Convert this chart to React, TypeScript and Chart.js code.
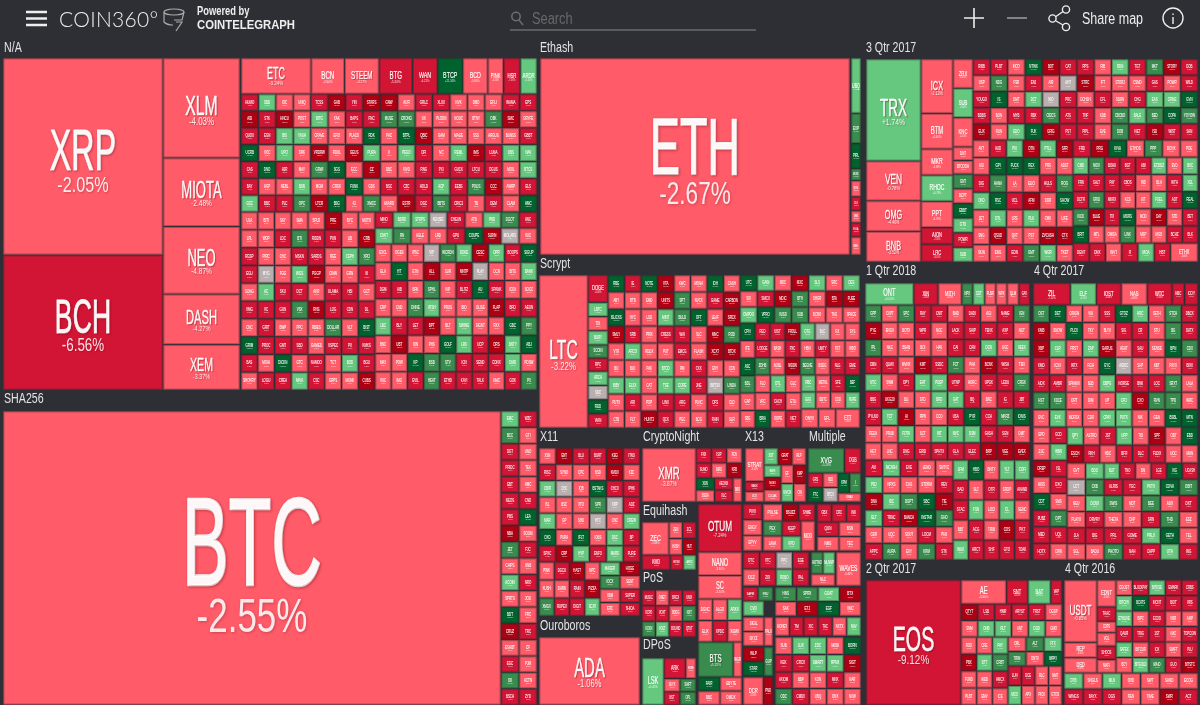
import React, { useEffect, useRef } from "react";
import { Chart, registerables } from "chart.js";

Chart.register(...registerables);

// ---- Tile data: "SYMBOL change% [weight]", one string per row of a block ----
const naBig = ["XRP -2.05"];
const naBch = ["BCH -6.56"];
const naCol = ["XLM -4.03 99", "MIOTA -2.48 68", "NEO -4.87 67", "DASH -4.27 50", "XEM -3.37 45"];
const naTop = ["ETC -3.24 67,BCN -2.60 32,STEEM -4.27 33,BTG -5.20 32,WAN -6.21 24,BTCP 21.5 24,BCD -3.8 24,PINK -4 15,HSR -7 16,ARDR 1.5 16"];
const naGrid = [
  "HUMO -7,SBD 1,IOC -3,UNIQ -3,TCSS -7,GAB -12,YIN -8,STARS -12,GNW -12,AUR -3,GRLC -7,XLUX -8,NVK -3,DMD -3,EFLI -3,WAMA -7,EPS -8",
  "AID -12,STK -8,HNCU -12,POST -3,BITG 1,XAK -3,BAPS -7,FNC -8,MUSE 5,CRONG 5,UK -3,PLODN -3,NOUC -3,BTNY -3,OBK 5,SMC -12,GRYFE -3",
  "QUOX -7,EGN -8,BIS 1,YASH 2,CRAVE -3,ERO -3,PLACO -3,RDK 15,PHC -3,BTPL 12,QBIC -12,GAM -3,MAGE -3,SSS -3,ARGUS -3,BUNSS -3,GBBT -7",
  "UCRB 14,XOC -3,UPO 1,DRK -3,VRDRW -12,RDUL -3,GEUS -12,PURA 2,V -3,PEGO 1,DFI -8,IVC -3,REML 2,IMS -12,LUNA -7,DBS 1,NAV 2",
  "CAS -7,DNO 13,HJR -8,MAY -3,GRWI 6,SGS 16,ECC -3,CZ -12,DBC -3,VIVO -3,RNG -7,PXI -8,GUCK -7,LTCU -8,DGUS -7,MOIL -3,BTCS 1",
  "BAY -7,AGP -3,NEBL -3,BSN 2,MGM -3,CRGK -3,FUNK 14,GDS -3,BSC -7,CZC -8,HOLD -7,ACP 1,EEBS -7,POLIS 5,CCC -12,AWRP -3,ELS -7",
  "GCC 1,BBC -7,PLC -8,OPC 6,LTCR -12,BSG 15,42 -3,XMCC 5,AKARD -3,ESTR -12,DGC -7,BBTS 5,CRIC2 -8,TB -3,DEM -7,CLAM -3,HMC 13",
];
const naLeft = [
  "ULA -3,BITI -3,SKY -3,SMA -3,SPLD -3,PRE -12,BYC -3,MOTO -3",
  "LPL -3,WDP -3,LDC -7,BTI 5,RIDDN -8,PUN -7,LIB -3,CRB -12",
  "RGSP -7,PIRC -3,CHC -3,MSKN -8,SARDS -7,REE -3,CEPH 1,XRO 6",
  "EGU -7,MYG 0,FGG -3,WGS 2,PGGP -12,CINW -3,GRN -3,III -8",
  "SONG -3,AC 1,SKU -8,DCT -7,AKR -3,ULAMA -8,HBI -7,GCT -3",
  "XMG -7,VC -8,GUN -7,VSX 6,RNS -12,LOG -7,CDN -8,DL -7",
  "CNC -3,GRIT -8,BWP -3,PPC -3,RBIES -3,DOLLAR 5,VLT -3,BIST 14",
  "GRIM 13,PROC -7,GMT -8,SBD -7,GAMES -3,XSPEC -7,PX -8,KMXS -7",
  "BAS -7,MOIA -3,DICKN 15,GTC -3,NAMDO -7,TCT -3,BOD 2,BGU -7",
  "SHOKRY -3,LOGU -7,CREA -8,MKIA 1,CSC -7,GRPS -3,MONK -3,CUBS -12",
];
const naRight9 = [
  "MINO -7,BDRD 2,STRPS 1,KENSEI 0,CHEUN -8,ATB -3,PND 2,DGOT 5,ANC -7",
  "CNVT 1,RN 5,AGLE -3,LRD -3,GPU -7,COUPE 13,SLRIN -12,MOLARS 0,VUC -3",
];
const naRight10 = [
  "EXCL -3,OGES -3,IPSC -3,VIP 0,WCRDN 6,DOKE 1,CESC -12,OPR 2,BOOPS -7,SIGUP 14",
  "ELA -3,HT 15,ETN -3,ALL -12,SUR -3,MNTP -12,PLAY 0,OCN -3,BITS -3,BANK 1",
  "DGM -7,AIB -8,BRK -3,SPHL 5,KIP -3,BLITZ -7,AU 13,SPANK -8,ICOX -3,SOCC -3",
  "CRP -3,CND -3,DNNE 6,ATSH 1,PROS -3,BIO -3,OLISE -3,FLAP -12,BRO -7,AEON -8",
  "LBC 2,BLY -7,LET -8,BPT -12,BLT -3,SWING 1,SIGNT -3,RXX -3,GBC 14,PPY 5",
  "BNC -3,UBT -12,ION -3,PHS -3,GOLF 15,LRK 2,UCP -7,DRS -12,BNTY 1,ABJ 13",
  "MAX -3,POW -3,KP 14,BSB 5,STV 6,ICN -7,SEND -8,CDNX -7,DMD 1,POSW -3",
  "VUC -3,IMG -3,EVIL -7,HEAT 5,ETHD -8,KAYI -7,TALK -8,NMC -3,GOK -7,PX 6",
];
const shaBtc = ["BTC -2.55"];
const shaGrid = [
  "EMC 1,WZC -7", "BCC 5,GTI -3", "DGT -7,UNO -3", "PRIDC -8,TEK -3", "EBT -7,HMC -3", "NEOS -7,CND -8",
  "PBS -7,LEA 14", "NBA -12,SOOM -3", "JET 5,FJC -7", "CHIPS -3,UNB -3", "ACOIN 1,NRO -7", "SPRTS -3,JOD -3",
  "BDT 13,FRC -3", "CRUZ -12,TRC -7", "ESHBT -3,CF -3", "EGC -7,PJM -3", "OK 5,ACTN -3", "BSCH -7,ZYD -7",
];
const ethBig = ["ETH -2.67"];
const ethCol = ["UBQ 1 55", "EXP 6 30", "PIRL 14 25", "MUSIC 6 12", "SOIL -3 16", "CLO -7 14", "DBIX -3 12", "ELLA -8 14", "WHL -3 18"];
const q3Left = ["TRX 1.74 100", "VEN -0.78 39", "OMG -4.46 30", "BNB -3.52 30"];
const q3Mid = ["ICX -1.12 52", "BTM -4.40 34", "MKR -3.89 25", "RHOC 0.78 25", "PPT -3.09 25", "AION -7.3 16", "LRC -8.1 17"];
const q3Col = ["ZRX -3.2 28", "SUB 1.6 28", "KNC -3.1 28", "DNT -3 13", "BTCOOH -3 13", "GNT 5 14", "BCPT -3 14", "EBBT 14 14", "GTO 1 14", "POWR -7 14", "SUB 2 14"];
const q3Grid = [
  "RIBB -7,PLBT -7,INCO -3,NTWK 14,BOT -12,CAT -7,RPS -8,RIB -3,RDN 1,TGT -7,MKT 5,STORY -12,DOB -8",
  "USP -3,NDG 5,FSR -3,ENJ -7,AIR -3,AHT 0,STRC -12,IFT -3,STORJ -3,CSMD -3,GAS -7,POWR -3,WILD -7",
  "YOUGO -8,IS 15,OMT -3,DCT 1,NIO 0,PRC -7,DCHSH -3,CFL -8,SDRN -3,CHG -7,EAS 2,CFINE 1,GVN 14",
  "BDBS -7,BON -3,MYB -7,RBX -8,CIDCS 5,ATS -7,TNF -8,XDB -3,CBCBO 6,BALE 1,BED 5,COPA 15,YOYOW 5",
  "ELIX -12,RUN -3,EDO 1,FUK 13,GRIG -12,PST -7,PIPL -8,EVE -3,DOB 6,NET -7,ISD -12,WIST -8,SAN -7",
];
const q3GridB = [
  "AVT -3,AUD -7,PIX 2,OTN -12,PTLL 1,SFR -12",
  "ASI -3,GPI 14,FUCK 15,REX 13,PRS -3,ADST -3",
  "DIG -7,HANA 5,LA -3,ELIO -3,HULS -7,ROG 6",
  "OKD 1,RSC 13,UCL -7,AFM -12,DDR -3,SHOW 14",
  "JET -3,DTL 1,LRS -3,PLK 2,CMK -3,LIFE -3",
  "SNG -3,QSUD -12,QVT -3,PST -3,ZVCASH -12,CTX -12",
  "SKIN -3,ENG -3,EDN -7,GMT 5,WGR 1,TKET -3",
];
const q3GridC = [
  "FRD -7,PRG -12,KIVA 14,ETHOS -3,PPP 6,BCHX -3,POE -3",
  "CMD 1,NIOX 5,BOHU -7,BGT -8,ABI -7,ETZIDZ 1,EVD -3,BKC 2",
  "FRN -8,SALT -7,PAY -7,CBOS -8,IND -3,BLH -3,WTH -7,XEL 1",
  "DCTR -7,GRID 5,MKRX -7,KCS -3,IXT -3,FUEL 1,ADT -7,REAL 14",
  "KICK 5,BLUE -12,TIX -8,MDRS 15,MOD -3,DAY -12,STD -3,BET -7",
  "BRIT 14,MTL -3,OMISA -3,LINK 6,MSP -3,MGO -3,BCHZ -7,BLK -8",
  "DENT -7,DNX -8,INVT -3,R -7,MOA 1,HBT -7,ETHX -3 1.7",
];
const q1Top = ["ONT 0.5 70,XIN -7.3 35,MITH -4.1 34,NPX 5 16,CDT 1 17,PLBR -3 16,WPX -3 16,QLM -3 17,GAY -7 16"];
const q1Grid = [
  "GPP 5,CXPT -3,SPC 6,RAY -7,CNIT -8,BHD -3,DADI -7,AGI -3,NAME -8,IGN 5",
  "PYE -12,ENGX -3,BOTX -3,WPR -7,NGC -3,LACK -8,SHIP -7,TENX -8,AXP -7,NGT -3",
  "IPL 6,NKC -3,BSAB -3,BOI -3,HAV -3,CAI -7,CAN -8,DCN 1,UGC -3,VEEX 2",
  "DBN -7,QLMX -8,MVNX -3,KMT -12,SSDC -7,FCT 6,PHA -3,BCNX -12,WISH -7,TEN -3",
  "NTC 1,SWM -3,DPY -8,EHT 2,PDEP 1,UTNP -7,HORC -3,UPGK -8,LEDU -7,CRGK 5",
  "BBG -7,UKG20 -12,BLI -3,STD -3,BRD 1,GAT 2,BQ -7,BRC -3,IG -7,JBT -8",
  "PYLNO -7,TCT 2,AI -12,RPN -3,CCO -3,USA -7,PYR 14,CCH -8,MKRZ 5,IONIS 15",
  "REDX -3,PRUB -3,FOTA 1,SCT -3,INT 2,NVC 1,DSM 2,GASH -7,SGN -8,DMT -3",
  "HGT -3,LNC -3,DNG -8,ERID -7,SPHTX -7,GLA -8,ELEC -7,BRP -12,VEE -12,EVEX -12",
];
const q1LowA = [
  "AVI -7,MCASH 1,EVE -8,LEND -3,SNTYC -3",
  "PDJ 1,NPXS -3,CAG -3,STORM -3,REV -7",
  "DNA -12,IDC 2,DGPT 5,SBC 14,TIE -12",
  "GLT 1,TRNC -8,BANCA -12,INSTAR 15,GHO 6",
  "GDR -3,UQC -3,SOUT -3,LOCM -7,PHX -3",
  "APPC -7,AURA 6,EXY -3,KRM 5,STK -8",
];
const q1LowB = [
  "LFM 1,HBO 14,BNTY -3,YLT 2,COFI 1",
  "BAD -7,SLT -3,OTR -7,SROP -3,AVAND -8",
  "STAC -7,FSN 1,LOCI -3,CL 2,SENC -3",
  "BBT -3,ACG -8,TRIB -3,COS -12,PKT -7",
  "WAX 1,ARCT -7,SHF -8,GTO -7,TOAK -7",
];
const q4Top = ["ZIL -7.2 36,ELF 0.5 25,IOST -6.5 24,NAS -4.8 25,WTC -7.6 24,HBC -7 12,ICOY -8 13"];
const q4Grid = [
  "OST 5,DET 14,ORIGN -3,VIU -3,SSS -7,GTOZ 15,HRC 1,SETH -3,STCH 6,DBCX -8",
  "KMB -12,SNOW -3,PLCX 14,TKY -3,BLYX -3,SIG -7,CR -8,STU -3,BG 5,DATX -7",
  "XBP -12,CLR 1,FRST -3,ZAP 2,GARUS -12,AGAT -3,SAU -7,SENSE -3,BPN 15,CDX 6",
  "KMD -7,ICXX -3,INTX -8,RGH -3,GYC 14,AIDOC 0,SHP -3,KBT -3,PAYX -3,BIXX -7",
  "AIDX -8,AMBR -7,SPANKX -3,B2B -3,DBPG 1,NORSE -7,BNK -8,LOC -7,SRXT 5,LALA -3",
  "HST 6,XDCE 5,DRT -3,DIM -3,UP -3,CFO 1,CXO -12,RVN 6,TPD 5,WRC -3",
  "GVC -3,EVX 2,MDRSX -3,CDR -3,CPAY 1,PUTX 2,NIK -3,GEN -3,BSBL 14,MTN 15",
];
const q4Left = [
  "EPO -3,GCD -8", "ZSC -3,WBN 1", "DREP -12,ISL -7", "HIOS -3,DXO -8",
  "CDT 14,SMS -3", "PUBZ -7,DPT 5", "MED -8,UQL -7", "HOTX -7,CRW -3",
];
const q4Mid = [
  "QPY 1,ASTRO -3,JST -7,UPP 2,TIO -3,SPF -12,OBT -3,EBD 14",
  "ESCH -12,RKH -7,HDC -3,BFR -8,DLC -7,FLDIX -8,UOC -3,MAN -3",
];
const q4Two = [
  "GVT -3,BDO 2", "LCT 0,CXB 5", "NEU -3,DCNX 1", "PLAYX -3,DRVRY -7", "JLA -8,BIG -7", "SGL -3,BADU -3",
];
const q4Rest = [
  "BLIT 1,TNO -7,BAI -3,LGE -8,IXG 14,UCASH -7",
  "ALRIS -7,TGC -8,PKTX 1,COVA 15,OBIT 5",
  "SWIS 6,MDT -3,BEE 5,ADX -3,DXT -8",
  "THETA -3,CHP -3,SRN -7,THD 6,ESZ -3",
  "PRL -7,GOME -8,PRLX 1,GETH 14,TEL -3",
  "PHOTO 5,NAH -7,CAPP -8,UTH 2,ING -7",
];
const q2Eos = ["EOS -9.12"];
const q2Top = ["AE -3.8 44,SNT -5.1 21,BAT 0.9 22,VAP -7 11"];
const q2Rows = [
  "QTYT -12,LSB -7,HMR -8,ARYST -7,TRST -8,DGSP -3",
  "SNM -3,ONB 1,RLT 2,ANT -3,DGD 1,GMO -3",
];
const q2LowLeft = ["ROO -3,CRE -3,PAY 2", "PBX -12,DTT 1,CRBT 5", "FUND -3,WEB -3,HMCX -8", "PLBT -3,EMV -3,ICE -3"];
const q2LowRightA = ["ORL -3,ALT 6,FTX 1", "TRIM 5,DNTX -3,IMPAY 14"];
const q2LowRightB = ["LUN -7,DCE -8,RLC -3,NMT -3", "MCO 1,APX -3,PICK -3,GTOS -3"];
const q6Usdt = ["USDT -0.85 61", "REP -3 15", "DSD -3 15"];
const q6Col = ["EDNT -3 26", "TAAC -7 14", "COPS -3 11", "VGL -3 13", "SHOOS -8 13", "NIXFI -3 13"];
const q6Grid = [
  "COOST -3,BLOCKPAY -7,BITUSE 1,EMARK -8,CRBS -7",
  "BITCNY 1,BCATS 14,INCNT -7,BIOT -8,VRS -7",
  "ETHLIVE 2,BIPC -3,ECOD -7,NSR -3,AMP -3",
  "QAUR -7,TRIG -8,1ST -7,NXC -3,TOPCOIN -8",
  "SAFEX 1,BITCUR -3,IOX -7,SWIFT -3,PLU -8",
  "BCY -3,BITGOLD 2,MAID 5,GUO -7,BITSTC -12",
];
const q6Low = ["DTB 1,SNGLS -3,MLN 2,OXD -3,SWT -3,SAND -3,ECOG -3", "WINGS -7,BAYX -8,DGS -7,REN -3,TIME -3,SWR -12,ACT -8"];
const ltcBig = ["LTC -3.22"];
const scrCol = ["DOGE -6.4 27", "LBTC 1 14", "TIX -3 14", "BURY 2 14", "SCOIN 5 13", "RPC -7 13", "ARCH 1 14", "SDC 0 14", "RDD 14 14", "VIAN -7 14"];
const scrGrid = [
  "RBE 14,IE -7,NOTE 15,VTA -12,KWC -3,MONA -3,IDH 14,CASH -3",
  "ABY -3,BTB -3,EMD -3,UNITS -12,SPT 6,NVCX -3,GAME -8,CARBON -12",
  "ISLICKS 15,HYC -3,LSD -3,MINT 1,BULD 5,OFT 14,LEAF -3,SRCX -12",
  "SMLY -12,SRB -8,PRIX -3,CRESS -7,WAI -8,SLC -3,MNC -12,ROD 6",
  "VTR -3,ARCO 2,RDDX -3,PUT -3,EMCG -8,FLASH -3,XCXT -12,BTDX -12",
  "BU -3,BLK -3,PAK -3,BTCD 1,RM -3,CXX -7,ENY -3,CCN -3",
  "BIBY 1,ELSX 2,CAT -3,TSE 1,CORE 2,JNE -7,BBTSX 0,LINDA 5",
  "PUTX -3,ARI -7,PDP -3,LINX -8,ARG -7,PLNC -3,DFS -8,CLD -3",
  "CTB -3,FLT -3,HUNT2 -12,QCK -7,PEC -3,BCG -3,RAIN -8,SLR -3",
];
const scrTop = [
  "UTC 14,GAIN 2,MDC -3,MXC -12,SLS 1,SRC -3,DES 2",
  "SIX -3,SMCX -7,MDIC -12,BTH 5,SHGR -3,BTA -12,FUEE -12",
  "CMPOO 1,VPRO 14,VUSD 5,SUB 6,BCNO -3,TAG -3,SPACE -3",
];
const scrOne = ["CPN 14", "ITE -3", "ASC 15", "BDL 5", "GAP -3", "SBE -3"];
const scrMid = [
  "RED -8,UIST -7,FROLL -12,DTG 2,BLC 0,RX -3,SYS -3",
  "LOOGE -7,BASH -3,PXC -8,HBN -3,UNITY -7,FST -3,WBO -3",
  "ZOHB 5,NOBL -3,NIDDN -12,BEGNE 6,BSDG -3,NLG -7,EME -8",
];
const scrLowL = ["FLO -3,DTL 1,GLC -3", "VRC -3,CACH -7,ETLI -3", "BRIA 14,OOPE -3,NET -8"];
const scrLowR = ["RBC 1,METAL -3,SFE -7,BEF 14", "EAG 2,BBTC -3,COD -3,RUPE 1", "ONYX -3,EFL -3,ETT -3 1.4"];
const x11Grid = [
  "XSN -3,ENT -12,BLU -7,BURT -8,KEG -12,ITNS -7",
  "RISC -7,SYNO -3,CPC -3,BSD -3,KMDX -12,KZC -3",
  "CBIR 1,CHC 0,IQB -3,BSTAKS 14,CHCX -7,IPHK -8",
  "ISL -3,BSC -3,XTO -3,SPR 5,XRP 0,ADZ -8",
  "MAR 1,GP -3,SHD -3,HTC 0,CNC -3,CREW 2",
  "OXD 14,PURA -3,IFLT 15,IOBS -3,DSC 1,BP -7",
  "SPXC -7,CRP -12,HYP 2,ENFO -7,MARS 1,PURE -8",
];
const x11LowL = ["PINK -3,DGCU -7,HAST -12,NPC -3", "KUSH -3,DARN -3,RAIN -7,PIZZA -12", "XMGX 5,RUPEX -7,DIGIT -8,SCAT 1"];
const x11LowR = ["MAGER 1,HOGE -12", "IOCX 5,SENT -3", "XBM -3,SUPER -7", "ERC -3,SHIDA -8"];
const adaBig = ["ADA -1.06"];
const xmrBig = ["XMR -3.87"];
const cnA = ["FNX -7,ISIP -8,FCN -3", "SUMO -7,BIRD -3,KRB -12"];
const cnB = ["XDN 14,AEONX -7", "SSDA -3,XLC -8"];
const cnC = ["BBR -3"];
const eqZec = ["ZEC -3.88"];
const eqGrid = ["ZEN -3,ZCL -8", "HUSH -3,HUT -12"];
const eqLow = ["KMD -7 2.2,BTGX -7,ARTC 2"];
const posGrid = ["MUSIC -7,ONET -3,BRCX -8,UNIX -7", "XCPO -7,VOXT -8,BDDG -3,NXT 6", "XCKN 5,VOLT 1,BOUND -7,QTUT -8"];
const dposLsk = ["LSK 0.45"];
const dposGrid = ["ARK -7 2.1,RISE -3", "SKYX -3,SHIFT 6", "NST -7,OPL 5"];
const x13Strat = ["STRAT -3.1 95", "NAVX -7 28", "ZCO -3 30"];
const x13Top = ["XST 1,GRAT -12,RLP -3"];
const x13Col = ["BWK 2", "NLGX -12", "CLOAK -3"];
const x13Grid = ["EF -3,KMP -12", "VIVOX 1,CIN -3"];
const mulTop = ["XVG 5.28 2.2,DGB -7.1"];
const mulA = ["GRS -7,XBD -3", "FTC 14,BTCX 0"];
const mulB = ["XPM 14,I 6"];
const mulC = ["DNAX -3"];
const otumBig = ["OTUM -7.24"];
const nanoSc = ["NANO -3.80 22", "SC -3.10 22"];
const miscA = ["DGNC -3,ALGO -3,ARKX 2", "ELIX -3,XPDC -7,XEMX -3"];
const btsBig = ["BTS 5.25 4,WGR -3"];
const miscB = ["FAIR 14,GBYTE -3", "BBC -3,DMDX -3"];
const colPivx = ["PIVX -7", "ENGY -3", "EPYV -3"];
const rowPulse = ["PULSE -3 1.2,BSUZZ -12,SHME -7"];
const gridPex = ["PEX 6,KEEP -7", "LANA -3,KPD 1"];
const tallMod = ["MOD -3"];
const rowGbx = ["GBX -7,CRC -7,INK -8"];
const gridQun = ["QUN -7,BSN -3", "NMS -3,TEC -3"];
const rowDtc = ["DTC -7,VTC -8,PPC 0,EGE -7", "IOCZ -3,ZOI -7,ROBO 2,PAL -8"];
const hot = ["HOTNO 5,MLNNP 1"];
const nlc = ["NLC -3"];
const waves = ["WAVES -3.4"];
const sapir = ["SAPIR -7,PGU 5"];
const cvd = ["CVD 1"];
const sigil = ["SIGIL -3", "SKYZ -3"];
const palx = ["PALX -3"];
const wlp = ["WLP -12", "STAR 15"];
const tallM = ["GUP 5"];
const dcr = ["DCR -3.5 2.1,PND -12"];
const lowA = ["HNS 5,SPRX 6,GOAT 1,BTX -12", "SAK -3,ETJ -12,EGF 14,XMC -3"];
const lowB = ["HONEY -3,TM -7,XIC -8,TAC -7,NXTX -3,NAV 1"];
const lowC = ["SUB -3,LUX 1,ZOC 2,MOBI -3,BORN 15", "KEK -7,CRCX -8,SMART 1,RPNX 2,SIGT -12"];
const lowD = ["AXIOM -7,BBP -3,KON -3,MNX -8,NAR -3", "ODC 6,CMDX -7,UBQ -3,ONX -3,NXW -3"];

// Group captions and where each sits on the map.
const groupNames = ["N/A", "SHA256", "Ethash", "3 Qtr 2017", "Scrypt", "1 Qtr 2018", "4 Qtr 2017", "X11", "CryptoNight", "X13", "Multiple", "Equihash", "PoS", "Ouroboros", "DPoS", "2 Qtr 2017", "4 Qtr 2016"];
const groupAnchors = [[4, 48], [4, 399], [540, 48], [866, 48], [540, 264], [866, 271], [1034, 271], [540, 437], [643, 437], [745, 437], [809, 437], [643, 511], [643, 578], [540, 626], [643, 645], [866, 569], [1065, 569]];

// Where each block of rows goes: rows, x0, y0, x1, y1 in map units.
const blocks: [string[], number, number, number, number][] = [
  [naBig, 3, 58, 163, 255], [naBch, 3, 255, 163, 390], [naCol, 163, 58, 240, 390], [naTop, 241, 58, 537, 94],
  [naGrid, 241, 94, 537, 212], [naLeft, 241, 212, 375, 390], [naRight9, 375, 212, 537, 244], [naRight10, 375, 244, 537, 390],
  [shaBtc, 3, 411, 501, 705], [shaGrid, 501, 411, 537, 705],
  [ethBig, 540, 58, 850, 255], [ethCol, 851, 58, 861, 255],
  [q3Left, 866, 59, 921, 262], [q3Mid, 921, 59, 953, 262], [q3Col, 953, 59, 973, 262], [q3Grid, 973, 59, 1198, 140],
  [q3GridB, 973, 140, 1073, 262], [q3GridC, 1073, 140, 1198, 262],
  [q1Top, 865, 283, 1030, 305], [q1Grid, 865, 305, 1030, 460], [q1LowA, 865, 460, 953, 560], [q1LowB, 953, 460, 1030, 560],
  [q4Top, 1033, 283, 1198, 305], [q4Grid, 1033, 305, 1198, 427], [q4Left, 1033, 427, 1067, 560], [q4Mid, 1067, 427, 1198, 463],
  [q4Two, 1067, 463, 1104, 560], [q4Rest, 1104, 463, 1198, 560],
  [q2Eos, 866, 580, 961, 705], [q2Top, 961, 580, 1062, 604], [q2Rows, 961, 604, 1062, 637], [q2LowLeft, 961, 637, 1008, 705],
  [q2LowRightA, 1008, 637, 1062, 666], [q2LowRightB, 1008, 666, 1062, 705],
  [q6Usdt, 1064, 580, 1097, 673], [q6Col, 1097, 580, 1116, 673], [q6Grid, 1116, 580, 1198, 673], [q6Low, 1064, 673, 1198, 705],
  [ltcBig, 539, 275, 588, 428], [scrCol, 588, 275, 608, 428], [scrGrid, 608, 275, 740, 428], [scrTop, 740, 275, 860, 323],
  [scrOne, 740, 323, 755, 428], [scrMid, 755, 323, 860, 375], [scrLowL, 755, 375, 801, 428], [scrLowR, 801, 375, 860, 428],
  [x11Grid, 539, 448, 640, 562], [x11LowL, 539, 562, 600, 616], [x11LowR, 600, 562, 640, 616],
  [adaBig, 539, 637, 640, 705],
  [xmrBig, 642, 448, 696, 502], [cnA, 696, 448, 742, 478], [cnB, 696, 478, 733, 502], [cnC, 733, 478, 742, 502],
  [eqZec, 642, 522, 669, 555], [eqGrid, 669, 522, 696, 555], [eqLow, 642, 555, 696, 570],
  [posGrid, 642, 590, 696, 637], [dposLsk, 642, 658, 664, 705], [dposGrid, 664, 658, 696, 705],
  [x13Strat, 745, 448, 764, 502], [x13Top, 764, 448, 806, 465], [x13Col, 764, 465, 781, 502], [x13Grid, 781, 465, 806, 502],
  [mulTop, 808, 448, 861, 473], [mulA, 808, 473, 838, 502], [mulB, 838, 473, 861, 493], [mulC, 838, 493, 861, 502],
  [otumBig, 698, 504, 742, 552], [nanoSc, 698, 552, 742, 599], [miscA, 698, 599, 742, 642], [btsBig, 698, 642, 742, 677], [miscB, 698, 677, 742, 705],
  [colPivx, 743, 504, 762, 551], [rowPulse, 763, 504, 815, 521], [gridPex, 763, 521, 801, 551], [tallMod, 801, 521, 815, 551],
  [rowGbx, 817, 504, 861, 522], [gridQun, 817, 522, 861, 551],
  [rowDtc, 743, 552, 809, 586], [hot, 811, 552, 835, 574], [nlc, 811, 574, 835, 586], [waves, 836, 552, 861, 586],
  [sapir, 743, 587, 773, 601], [cvd, 743, 601, 764, 616], [sigil, 743, 617, 764, 646], [palx, 764, 617, 773, 646],
  [wlp, 743, 647, 764, 676], [tallM, 764, 647, 773, 676], [dcr, 743, 677, 773, 705],
  [lowA, 775, 587, 861, 616], [lowB, 775, 617, 861, 636], [lowC, 775, 637, 861, 672], [lowD, 775, 672, 861, 705],
];

type Tile = { x: number; y: number; x0: number; y0: number; x1: number; y1: number; name: string; change: number };

// Lay each block out: row height follows the mean weight of its tiles, tile width its weight.
function layout(): Tile[] {
  const out: Tile[] = [];
  for (const [rows, bx0, by0, bx1, by1] of blocks) {
    const parsed = rows.map((r) =>
      r.split(",").map((t) => {
        const p = t.trim().split(" ");
        return { name: p[0], change: parseFloat(p[1]), w: p[2] ? parseFloat(p[2]) : 1 };
      })
    );
    const means = parsed.map((r) => r.reduce((s, t) => s + t.w, 0) / r.length);
    const total = means.reduce((a, b) => a + b, 0);
    let y = by0;
    parsed.forEach((r, i) => {
      const h = ((by1 - by0) * means[i]) / total;
      const sum = r.reduce((s, t) => s + t.w, 0);
      let x = bx0;
      for (const t of r) {
        const w = ((bx1 - bx0) * t.w) / sum;
        out.push({ x: x + w / 2, y: y + h / 2, x0: x, y0: y, x1: x + w, y1: y + h, name: t.name, change: t.change });
        x += w;
      }
      y += h;
    });
  }
  return out;
}

const BG = "#2e2f34";
const NARROW = '"Liberation Sans", sans-serif';
const STRETCH = 0.56;
const PCT_STRETCH = 0.74;

function bandColor(v: number): string {
  if (v >= 10) return "#00622c";
  if (v >= 3) return "#3a8c4e";
  if (v > 0) return "#66c87e";
  if (v === 0) return "#b9afaf";
  if (v > -5) return "#ff5b69";
  if (v > -10) return "#d31535";
  return "#af0013";
}

function fmt(v: number): string {
  return (v > 0 ? "+" : "") + v.toFixed(2) + "%";
}

function squeezed(ctx: CanvasRenderingContext2D, text: string, x: number, y: number, cap: number, weight: number, stretch: number) {
  ctx.font = `${cap / 0.72}px ${NARROW}`;
  ctx.save();
  ctx.translate(x, y);
  ctx.scale(stretch, 1);
  if (weight > 0) {
    ctx.lineJoin = "round";
    ctx.lineWidth = cap * weight;
    ctx.strokeStyle = ctx.fillStyle as string;
    ctx.strokeText(text, 0, 0);
  }
  ctx.fillText(text, 0, 0);
  ctx.restore();
}

const treemapPlugin = {
  id: "treemapTiles",
  afterDatasetsDraw(chart: any) {
    const { ctx, scales } = chart;
    const sx = scales.x;
    const sy = scales.y;
    ctx.save();
    ctx.fillStyle = BG;
    ctx.fillRect(0, 0, chart.width, chart.height);
    for (const t of chart.data.datasets[0].data as Tile[]) {
      const x0 = sx.getPixelForValue(t.x0);
      const x1 = sx.getPixelForValue(t.x1);
      const y0 = sy.getPixelForValue(t.y0);
      const y1 = sy.getPixelForValue(t.y1);
      const w = x1 - x0 - 1;
      const h = y1 - y0 - 1;
      ctx.fillStyle = bandColor(t.change);
      ctx.fillRect(x0 + 0.5, y0 + 0.5, w, h);
      ctx.strokeStyle = "rgba(45,40,45,0.35)";
      ctx.lineWidth = 1;
      ctx.strokeRect(x0 + 1, y0 + 1, w - 1, h - 1);

      let cap = 0.235 * Math.sqrt(w * h);
      ctx.font = `${cap / 0.72}px ${NARROW}`;
      const wide = ctx.measureText(t.name).width * STRETCH;
      if (wide > w * 0.88) cap *= (w * 0.88) / wide;
      const pctCap = Math.max(cap * 0.38, 1.6);
      const gap = cap * 0.14;
      const mid = (y0 + y1) / 2 + h * 0.02;
      const top = mid - (cap + gap + pctCap) / 2;
      const cx = (x0 + x1) / 2;
      const big = cap > 8;
      ctx.shadowColor = big ? "rgba(80,0,10,0.3)" : "transparent";
      ctx.shadowBlur = big ? Math.min(cap * 0.05, 3) : 0;
      ctx.shadowOffsetX = big ? 1 : 0;
      ctx.shadowOffsetY = big ? 1 : 0;
      ctx.textAlign = "center";
      ctx.textBaseline = "alphabetic";
      ctx.fillStyle = "rgba(255,255,255,0.96)";
      squeezed(ctx, t.name, cx, top + cap, cap, 0.03, STRETCH);
      ctx.fillStyle = "rgba(255,255,255,0.88)";
      squeezed(ctx, fmt(t.change), cx, top + cap + gap + pctCap, pctCap, 0, PCT_STRETCH);
      ctx.shadowColor = "transparent";
      ctx.shadowBlur = 0;
      ctx.shadowOffsetX = 0;
      ctx.shadowOffsetY = 0;
    }
    ctx.textAlign = "left";
    ctx.textBaseline = "middle";
    groupNames.forEach((n, i) => {
      ctx.font = `14px ${NARROW}`;
      ctx.fillStyle = "#e4e4e6";
      ctx.save();
      ctx.translate(sx.getPixelForValue(groupAnchors[i][0]), sy.getPixelForValue(groupAnchors[i][1]));
      ctx.scale(0.76, 1);
      ctx.fillText(n, 0, 0);
      ctx.restore();
    });
    ctx.restore();
  },
};

function Header() {
  const abs = (o: React.CSSProperties): React.CSSProperties => ({ position: "absolute", whiteSpace: "nowrap", transformOrigin: "left center", ...o });
  return (
    <div style={{ position: "absolute", left: 0, top: 0, width: 1200, height: 38, color: "#eee", fontFamily: NARROW }}>
      <svg width="1200" height="38" style={{ position: "absolute", left: 0, top: 0 }}>
        <g stroke="#eee" strokeWidth="2.4" fill="none">
          <path d="M26 12h21M26 18.5h21M26 25h21" />
          <path d="M964 18h20M974 8v20" strokeWidth="1.6" />
          <path d="M1007 18h20" strokeWidth="1.2" stroke="#bbb" />
          <g strokeWidth="1.4">
            <circle cx="1066" cy="9.5" r="3.6" />
            <circle cx="1052.5" cy="18.5" r="3.6" />
            <circle cx="1066" cy="27" r="3.6" />
            <path d="M1056 16.5l7-5M1056 21l7 4" />
          </g>
          <circle cx="1173" cy="18" r="10" strokeWidth="1.4" />
          <path d="M1173 13.5v1.5M1173 17v7" strokeWidth="1.4" />
          <g strokeWidth="1.2" stroke="#aaa">
            <ellipse cx="174" cy="12" rx="10" ry="3" />
            <path d="M164 12v10q3 3 9 3M184 12l-2 8h-8M176 22l6 0-6 9" />
          </g>
          <circle cx="516" cy="16.5" r="4.2" stroke="#6e6e72" strokeWidth="1.5" />
          <path d="M519 20l4 5" stroke="#6e6e72" strokeWidth="1.5" />
          <path d="M510 30h246" stroke="#6a6a6e" strokeWidth="1.5" />
        </g>
      </svg>
      <span style={abs({ left: 59, top: 6, fontFamily: "Lato, sans-serif", fontWeight: 300, fontSize: 21, letterSpacing: 0.3, lineHeight: "26px" })}>COIN360°</span>
      <span style={abs({ left: 197, top: 3, fontSize: 13, fontWeight: 700, lineHeight: "15px", transform: "scaleX(0.72)" })}>Powered by</span>
      <span style={abs({ left: 197, top: 17, fontSize: 13, fontWeight: 700, lineHeight: "15px", transform: "scaleX(0.87)" })}>COINTELEGRAPH</span>
      <span style={abs({ left: 532, top: 9, fontSize: 16, color: "#68686c", lineHeight: "19px", transform: "scaleX(0.8)" })}>Search</span>
      <span style={abs({ left: 1082, top: 9, fontSize: 16, lineHeight: "19px", transform: "scaleX(0.78)" })}>Share map</span>
    </div>
  );
}

export default function App() {
  const ref = useRef<HTMLCanvasElement>(null);
  useEffect(() => {
    document.body.style.margin = "0";
    document.body.style.background = BG;
    const chart = new Chart(ref.current as HTMLCanvasElement, {
      type: "scatter",
      data: { datasets: [{ data: layout() as any, pointRadius: 0, pointHoverRadius: 0 }] },
      options: {
        animation: false,
        responsive: false,
        layout: { padding: 0 },
        events: [],
        scales: {
          x: { type: "linear", min: 0, max: 1200, display: false },
          y: { type: "linear", min: 0, max: 705, reverse: true, display: false },
        },
        plugins: { legend: { display: false }, tooltip: { enabled: false } },
      },
      plugins: [treemapPlugin as any],
    });
    return () => chart.destroy();
  }, []);
  return (
    <div style={{ position: "relative", width: 1200, height: 705, overflow: "hidden" }}>
      <canvas ref={ref} width={1200} height={705} style={{ display: "block" }} />
      <Header />
    </div>
  );
}
